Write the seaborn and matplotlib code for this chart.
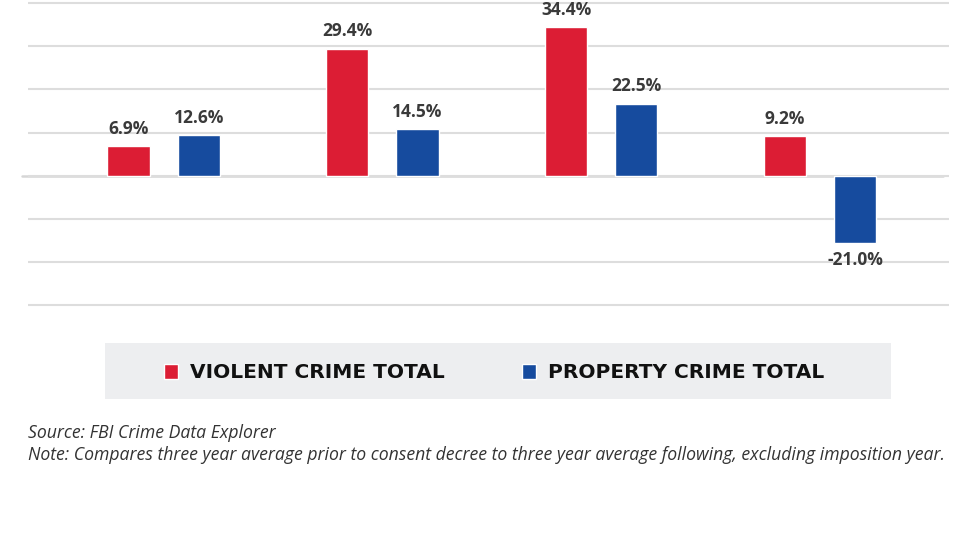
import pandas as pd
import seaborn as sns
import matplotlib.pyplot as plt
from matplotlib.patches import Rectangle

# chart values (percent change)
groups = ['1', '2', '3', '4']
series = ['VIOLENT CRIME TOTAL', 'PROPERTY CRIME TOTAL']
violent = [6.9, 29.4, 34.4, 9.2]
property_ = [12.6, 14.5, 22.5, -21.0]
colors = {'VIOLENT CRIME TOTAL': '#DC1D34', 'PROPERTY CRIME TOTAL': '#164B9E'}

source_note = 'Source: FBI Crime Data Explorer'
note_text = ('Note: Compares three year average prior to consent decree to three '
             'year average following, excluding imposition year.')

df_v = pd.DataFrame({'group': groups, 'series': series[0], 'value': violent})
df_p = pd.DataFrame({'group': groups, 'series': series[1], 'value': property_})

sns.set_style('white')
plt.rcParams['font.family'] = ['Open Sans', 'DejaVu Sans']

fig = plt.figure(figsize=(9.8, 5.52), dpi=100)
ax = fig.add_axes([28 / 980, 1 - 310 / 552, (949 - 28) / 980, 310 / 552])
# the property series sits on its own hidden scale, as in the original
ax2 = ax.twinx()

sns.barplot(data=df_v, x='group', y='value', hue='series', hue_order=series,
            order=groups, palette=colors, width=0.642, gap=0.4, dodge=True,
            ax=ax, saturation=1)
sns.barplot(data=df_p, x='group', y='value', hue='series', hue_order=series,
            order=groups, palette=colors, width=0.642, gap=0.4, dodge=True,
            ax=ax2, saturation=1)

for a in (ax, ax2):
    for cont in a.containers:
        a.bar_label(cont, fmt='%.1f%%', padding=6, fontsize=12.5,
                    fontweight='bold', color='#3a3a3a')
    a.set_xlim(-0.62, 3.59)
    a.tick_params(left=False, right=False, bottom=False, labelleft=False,
                  labelright=False, labelbottom=False)
    a.set_xlabel('')
    a.set_ylabel('')
    for s in a.spines.values():
        s.set_visible(False)

ax.set_ylim(-31.1, 40.7)
ax2.set_ylim(-42.0, 54.9)
ax.set_yticks(range(-30, 41, 10))
ax.yaxis.grid(True, color='#dddddd', linewidth=1.5)
ax.set_axisbelow(True)
ax.axhline(0, xmin=-0.006, xmax=0.993, color='#d6d6d6', linewidth=1.8,
           clip_on=False, zorder=0.5)

# legend in a grey band
handles, labels = ax.get_legend_handles_labels()
ax.get_legend().remove()
ax2.get_legend().remove()
fig.add_artist(Rectangle((105 / 980, 1 - 399 / 552), (891 - 105) / 980, 56 / 552,
                         transform=fig.transFigure, facecolor='#EDEEF0',
                         edgecolor='none', zorder=0))
fig.legend(handles, labels, loc='center', bbox_to_anchor=(494 / 980, 1 - 373 / 552),
           ncol=2, frameon=False, handlelength=0.72, handleheight=0.72,
           handletextpad=0.6, columnspacing=3.8,
           prop={'family': 'DejaVu Sans', 'size': 14.5, 'weight': 'bold'},
           labelcolor='#111111')

fig.text(28 / 980, 1 - 433 / 552, source_note, fontsize=12.7, style='italic',
         color='#333333', va='center', ha='left')
fig.text(28 / 980, 1 - 455 / 552, note_text, fontsize=12.7, style='italic',
         color='#333333', va='center', ha='left')

fig.savefig('out.png', dpi=100)
